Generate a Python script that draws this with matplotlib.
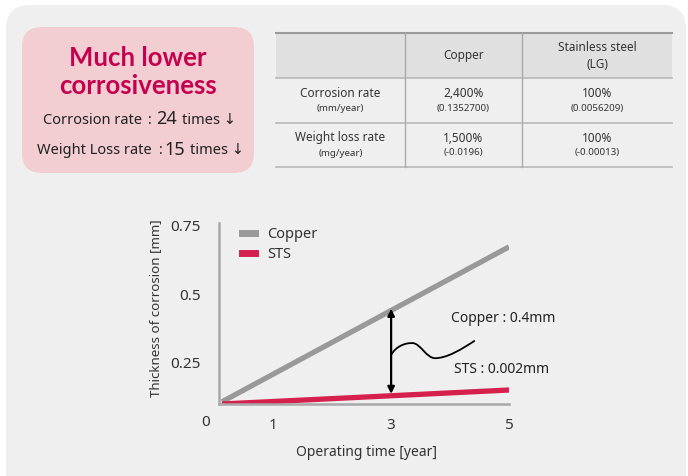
import matplotlib
matplotlib.use('Agg')
import matplotlib.pyplot as plt
from matplotlib.patches import FancyBboxPatch, PathPatch
from matplotlib.path import Path
from matplotlib.lines import Line2D

plt.rcParams['font.family'] = ['Noto Sans', 'DejaVu Sans']

# data
years = [0.13, 5.0]
copper = [0.108, 0.673]
sts = [0.100, 0.151]
x_ticks = [1, 3, 5]
y_ticks = [0.25, 0.5, 0.75]
arrow_year = 3
copper_at_3 = 0.447
sts_at_3 = 0.137

col_headers = ['', 'Copper', 'Stainless steel\n(LG)']
row_names = ['Corrosion rate', 'Weight loss rate']
row_units = ['(mm/year)', '(mg/year)']
copper_pct = ['2,400%', '1,500%']
copper_raw = ['(0.1352700)', '(-0.0196)']
sts_pct = ['100%', '100%']
sts_raw = ['(0.0056209)', '(-0.00013)']

# squiggle: start -> peak -> trough -> end, cubic bezier pieces
squiggle = [(3.0, 0.279), (3.08, 0.31), (3.24, 0.324), (3.37, 0.322),
            (3.5, 0.32), (3.6, 0.267), (3.745, 0.267),
            (3.95, 0.267), (4.2, 0.30), (4.42, 0.331)]

W, H = 688, 476
fig = plt.figure(figsize=(W / 100, H / 100), dpi=100)
fig.patch.set_facecolor('white')

bg = fig.add_axes([0, 0, 1, 1])
bg.set_xlim(0, W)
bg.set_ylim(H, 0)
bg.axis('off')

bg.add_patch(FancyBboxPatch((6, 5), 680, 500, boxstyle="round,pad=0,rounding_size=24",
                            facecolor='#efefef', edgecolor='none'))
bg.add_patch(FancyBboxPatch((22, 27), 232, 146, boxstyle="round,pad=0,rounding_size=20",
                            facecolor='#f2cdd1', edgecolor='none'))

title_font = ['Lato', 'Roboto', 'DejaVu Sans']
bg.text(138, 58, 'Much lower', ha='center', va='center', fontsize=18.5,
        weight='bold', color='#c4004f', family=title_font)
bg.text(138, 86, 'corrosiveness', ha='center', va='center', fontsize=18.5,
        weight='bold', color='#c4004f', family=title_font)

bg.text(43, 120, 'Corrosion rate', ha='left', va='center', fontsize=10.5, color='#222')
bg.text(148, 120, ':', ha='left', va='center', fontsize=10.5, color='#222')
bg.text(156, 119, '24', ha='left', va='center', fontsize=13, color='#222')
bg.text(182, 120, 'times \u2193', ha='left', va='center', fontsize=10.5, color='#222')
bg.text(37, 151, 'Weight Loss rate', ha='left', va='center', fontsize=10.5, color='#222')
bg.text(159, 151, ':', ha='left', va='center', fontsize=10.5, color='#222')
bg.text(164, 150, '15', ha='left', va='center', fontsize=13, color='#222')
bg.text(190, 151, 'times \u2193', ha='left', va='center', fontsize=10.5, color='#222')

# table
tx0, tx1 = 276, 672
cols = [276, 405, 522, 672]
rows = [33, 78, 123, 167]
bg.add_patch(plt.Rectangle((tx0, rows[0]), tx1 - tx0, rows[1] - rows[0],
                           facecolor='#e0e0e0', edgecolor='none'))
bg.plot([tx0, tx1], [rows[0], rows[0]], color='#9a9a9a', lw=1.5)
for r in rows[1:]:
    bg.plot([tx0, tx1], [r, r], color='#b8b8b8', lw=1.2)
for c in cols[1:3]:
    bg.plot([c, c], [rows[0], rows[3]], color='#aaaaaa', lw=1)

centers = [(cols[i] + cols[i + 1]) / 2 for i in range(3)]
bg.text(centers[1], 56, col_headers[1], ha='center', va='center', fontsize=8.5, color='#333')
bg.text(centers[2], 56, col_headers[2], ha='center', va='center', fontsize=8.5,
        color='#333', linespacing=1.4)
for i in range(2):
    yc = (rows[i + 1] + rows[i + 2]) / 2
    bg.text(centers[0], yc - 7, row_names[i], ha='center', va='center', fontsize=8.5, color='#333')
    bg.text(centers[0], yc + 8, row_units[i], ha='center', va='center', fontsize=7, color='#333')
    bg.text(centers[1], yc - 7, copper_pct[i], ha='center', va='center', fontsize=8.5, color='#333')
    bg.text(centers[1], yc + 8, copper_raw[i], ha='center', va='center', fontsize=7, color='#333')
    bg.text(centers[2], yc - 7, sts_pct[i], ha='center', va='center', fontsize=8.5, color='#333')
    bg.text(centers[2], yc + 8, sts_raw[i], ha='center', va='center', fontsize=7, color='#333')

# chart
ax = fig.add_axes([219 / W, 1 - 404 / H, 290 / W, 181 / H])
ax.set_facecolor('none')
ax.set_xlim(0.08, 5.0)
ax.set_ylim(0.1, 0.76)
for s in ['top', 'right']:
    ax.spines[s].set_visible(False)
for s in ['left', 'bottom']:
    ax.spines[s].set_color('#a8a8a8')
    ax.spines[s].set_linewidth(1.8)
ax.set_xticks(x_ticks)
ax.set_yticks(y_ticks)
ax.set_yticklabels(['0.25', '0.5', '0.75'])
ax.tick_params(length=0, labelsize=11, colors='#333')
ax.tick_params(axis='x', pad=10)
ax.tick_params(axis='y', pad=13)

ax.plot(years, copper, color='#999999', lw=3.8, solid_capstyle='butt', label='Copper')
ax.plot(years, sts, color='#d5204e', lw=3.8, solid_capstyle='butt', label='STS')

ax.annotate('', xy=(arrow_year, copper_at_3), xytext=(arrow_year, sts_at_3),
            arrowprops=dict(arrowstyle='<|-|>', color='black', lw=1.6,
                            mutation_scale=10, shrinkA=0, shrinkB=0))

codes = [Path.MOVETO] + [Path.CURVE4] * 9
ax.add_patch(PathPatch(Path(squiggle, codes), facecolor='none', edgecolor='black', lw=1.3))

ax.text(4.01, 0.41, 'Copper : 0.4mm', ha='left', va='center', fontsize=10,
        color='#222', clip_on=False)
ax.text(4.07, 0.224, 'STS : 0.002mm', ha='left', va='center', fontsize=10,
        color='#222', clip_on=False)

ax.text(206, 422, '0', transform=bg.transData, ha='center', va='center', fontsize=11, color='#333')

handles = [Line2D([], [], color='#999999', lw=5), Line2D([], [], color='#d5204e', lw=5)]
ax.legend(handles, ['Copper', 'STS'], loc='upper left', bbox_to_anchor=(0.035, 1.05),
          frameon=False, fontsize=10.5, handlelength=0.9, handletextpad=0.8,
          labelspacing=0.35, labelcolor='#333')

ax.set_ylabel('Thickness of corrosion [mm]', fontsize=9.6, color='#333')
ax.yaxis.set_label_coords(-0.195, 0.53)
ax.set_xlabel('Operating time [year]', fontsize=10, color='#333')
ax.xaxis.set_label_coords(0.51, -0.225)

plt.savefig('out.png', dpi=100, facecolor='white')
plt.close()
